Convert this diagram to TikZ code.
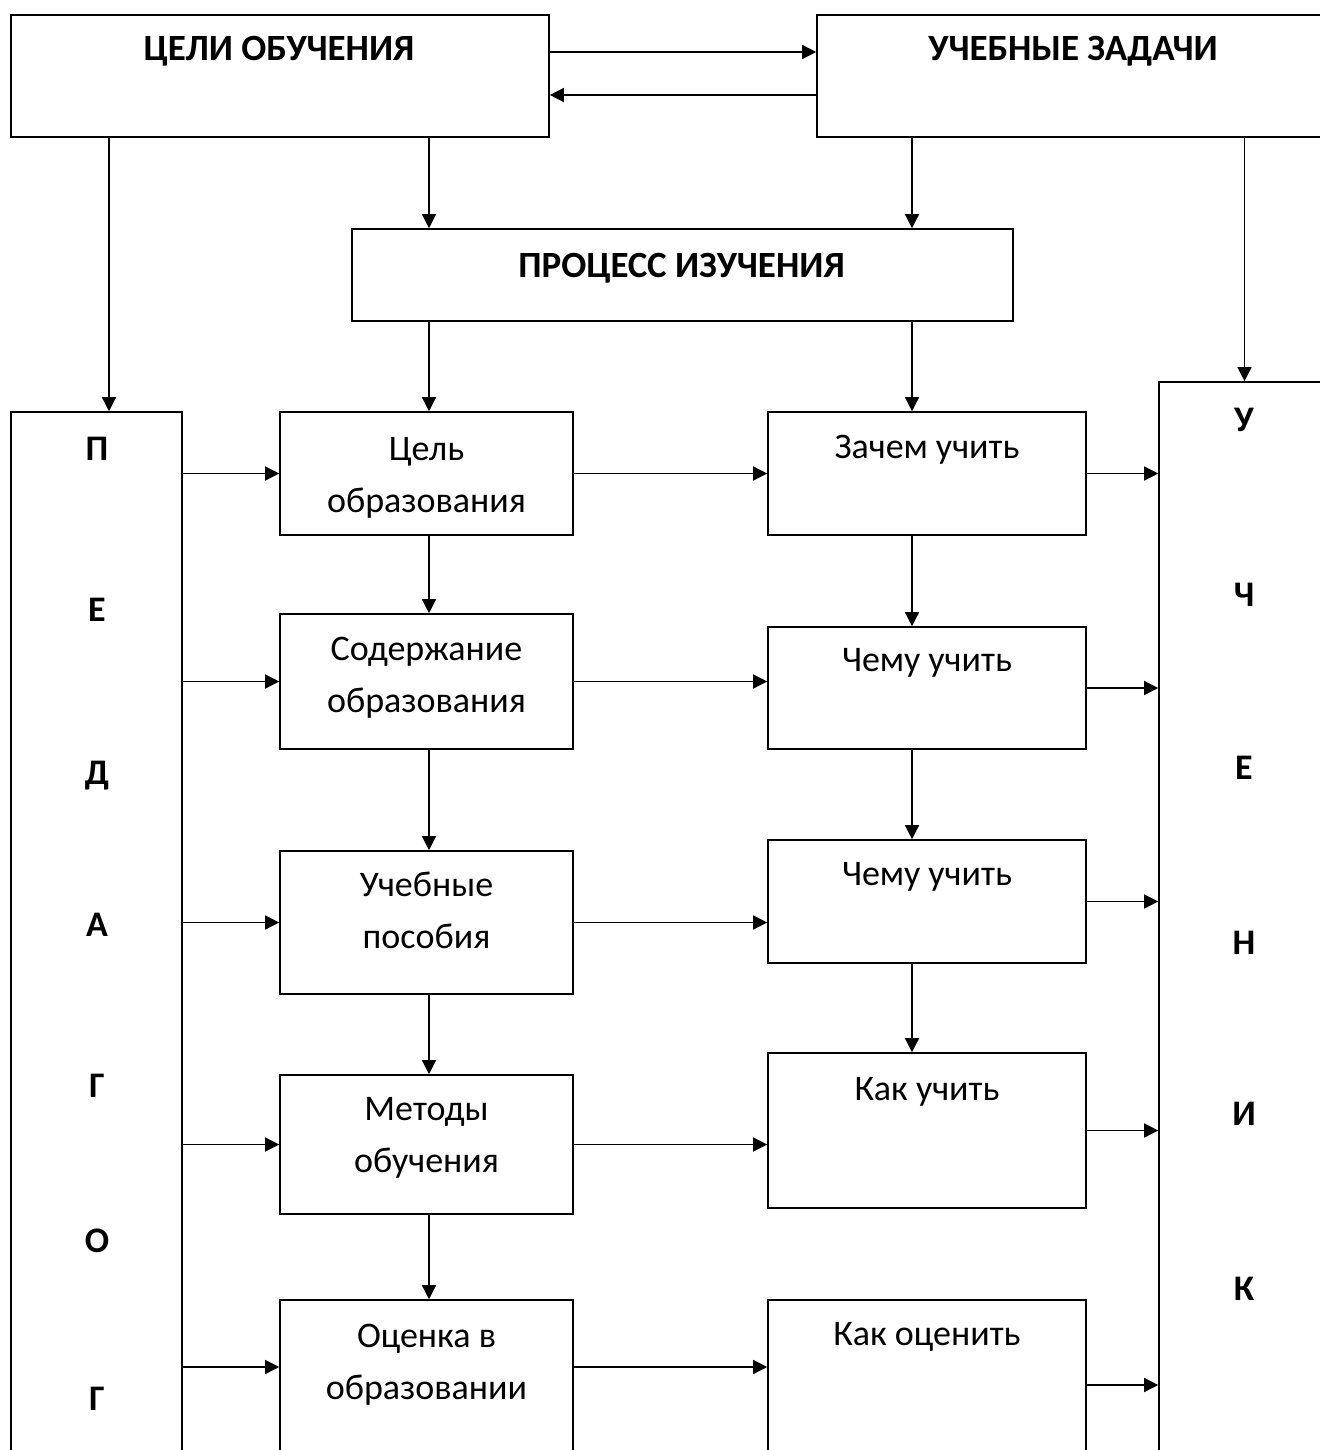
\documentclass[tikz,border=0pt]{standalone}
\usepackage{fontspec}
\setmainfont{Carlito}
\usetikzlibrary{arrows.meta}

\begin{document}
\begin{tikzpicture}[x=5pt,y=-5pt,
		blok/.style={draw,line width=0.8pt,inner sep=0pt},
		head/.style={anchor=base,inner sep=0pt,font=\fontsize{18.5}{22}\selectfont\bfseries},
		letter/.style={anchor=base,inner sep=0pt,font=\fontsize{18}{22}\selectfont\bfseries},
		txt/.style={anchor=base,inner sep=0pt,align=center,font=\fontsize{18}{26}\selectfont},
		arr/.style={line width=0.7pt,-{Triangle[length=7pt,width=7pt]}}]
		\useasboundingbox (0,0) rectangle (132,145);
		\clip (0,0) rectangle (132,145);
		\node[blok,minimum width=269pt,minimum height=61pt] (goals) at (28,7.6) {};
		\node[blok,minimum width=256.5pt,minimum height=61pt] (tasks) at (107.35,7.6) {};
		\node[blok,minimum width=330.5pt,minimum height=46pt] (process) at (68.25,27.5) {};
		\node[blok,minimum width=85.5pt,minimum height=529pt] (teacher) at (9.65,94.1) {};
		\node[blok,minimum width=85.5pt,minimum height=544pt] (pupil) at (124.45,92.6) {};
		\node[blok,minimum width=146.5pt,minimum height=61.5pt] (c1a) at (42.65,47.35) {};
		\node[blok,minimum width=146.5pt,minimum height=67.5pt] (c1b) at (42.65,68.15) {};
		\node[blok,minimum width=146.5pt,minimum height=71.5pt] (c1c) at (42.65,92.25) {};
		\node[blok,minimum width=146.5pt,minimum height=69.5pt] (c1d) at (42.65,114.45) {};
		\node[blok,minimum width=146.5pt,minimum height=85pt] (c1e) at (42.65,138.5) {};
		\node[blok,minimum width=159pt,minimum height=61.5pt] (c2a) at (92.7,47.35) {};
		\node[blok,minimum width=159pt,minimum height=61pt] (c2b) at (92.7,68.8) {};
		\node[blok,minimum width=159pt,minimum height=61.5pt] (c2c) at (92.7,90.15) {};
		\node[blok,minimum width=159pt,minimum height=77.5pt] (c2d) at (92.7,113.05) {};
		\node[blok,minimum width=159pt,minimum height=85pt] (c2e) at (92.7,138.5) {};
		\node[head] (goalstxt) at (27.9,6.1) {ЦЕЛИ ОБУЧЕНИЯ};
		\node[head] (taskstxt) at (107.3,6.1) {УЧЕБНЫЕ ЗАДАЧИ};
		\node[head] (processtxt) at (68.15,27.7) {ПРОЦЕСС ИЗУЧЕНИЯ};
		\node[letter] (ped1) at (9.7,46.0) {П};
		\node[letter] (ped2) at (9.7,62.1) {Е};
		\node[letter] (ped3) at (9.7,78.4) {Д};
		\node[letter] (ped4) at (9.7,93.6) {А};
		\node[letter] (ped5) at (9.7,109.7) {Г};
		\node[letter] (ped6) at (9.7,125.2) {О};
		\node[letter] (ped7) at (9.7,141.0) {Г};
		\node[letter] (uch1) at (124.4,43.1) {У};
		\node[letter] (uch2) at (124.4,60.6) {Ч};
		\node[letter] (uch3) at (124.4,77.9) {Е};
		\node[letter] (uch4) at (124.4,95.4) {Н};
		\node[letter] (uch5) at (124.4,112.5) {И};
		\node[letter] (uch6) at (124.4,130.0) {К};
		\node[txt] (c1atxt) at (42.65,51.2) {Цель\\образования};
		\node[txt] (c1btxt) at (42.65,71.25) {Содержание\\образования};
		\node[txt] (c1ctxt) at (42.65,94.85) {Учебные\\пособия};
		\node[txt] (c1dtxt) at (42.65,117.25) {Методы\\обучения};
		\node[txt] (c1etxt) at (42.65,139.95) {Оценка в\\образовании};
		\node[txt] (c2atxt) at (92.7,45.8) {Зачем учить};
		\node[txt] (c2btxt) at (92.7,67.15) {Чему учить};
		\node[txt] (c2ctxt) at (92.7,88.55) {Чему учить};
		\node[txt] (c2dtxt) at (92.7,110.05) {Как учить};
		\node[txt] (c2etxt) at (92.7,134.55) {Как оценить};
		\coordinate (colP) at (10.9,0);
		\coordinate (colA) at (42.9,0);
		\coordinate (colB) at (91.2,0);
		\coordinate (rowT) at (0,5.2);
		\coordinate (rowB) at (0,9.5);
		\coordinate (rowE) at (0,136.7);
		\draw[arr] (goals.east |- rowT) -- (tasks.west |- rowT);
		\draw[arr] (tasks.west |- rowB) -- (goals.east |- rowB);
		\draw[arr] (goals.south -| colP) -- (teacher.north -| colP);
		\draw[arr] (goals.south -| colA) -- (process.north -| colA);
		\draw[arr] (tasks.south -| colB) -- (process.north -| colB);
		\draw[arr] (tasks.south -| pupil.north) -- (pupil.north);
		\draw[arr] (process.south -| colA) -- (c1a.north -| colA);
		\draw[arr] (process.south -| colB) -- (c2a.north -| colB);
		\draw[arr] (c1a.south -| colA) -- (c1b.north -| colA);
		\draw[arr] (c1b.south -| colA) -- (c1c.north -| colA);
		\draw[arr] (c1c.south -| colA) -- (c1d.north -| colA);
		\draw[arr] (c1d.south -| colA) -- (c1e.north -| colA);
		\draw[arr] (c2a.south -| colB) -- (c2b.north -| colB);
		\draw[arr] (c2b.south -| colB) -- (c2c.north -| colB);
		\draw[arr] (c2c.south -| colB) -- (c2d.north -| colB);
		\draw[arr] (teacher.east |- c1a.west) -- (c1a.west);
		\draw[arr] (teacher.east |- c1b.west) -- (c1b.west);
		\draw[arr] (teacher.east |- c1c.west) -- (c1c.west);
		\draw[arr] (teacher.east |- c1d.west) -- (c1d.west);
		\draw[arr] (teacher.east |- rowE) -- (c1e.west |- rowE);
		\draw[arr] (c1a.east) -- (c2a.west |- c1a.east);
		\draw[arr] (c1b.east) -- (c2b.west |- c1b.east);
		\draw[arr] (c1c.east) -- (c2c.west |- c1c.east);
		\draw[arr] (c1d.east) -- (c2d.west |- c1d.east);
		\draw[arr] (c1e.east |- rowE) -- (c2e.west |- rowE);
		\draw[arr] (c2a.east) -- (pupil.west |- c2a.east);
		\draw[arr] (c2b.east) -- (pupil.west |- c2b.east);
		\draw[arr] (c2c.east) -- (pupil.west |- c2c.east);
		\draw[arr] (c2d.east) -- (pupil.west |- c2d.east);
		\draw[arr] (c2e.east) -- (pupil.west |- c2e.east);
	\end{tikzpicture}
\end{document}
